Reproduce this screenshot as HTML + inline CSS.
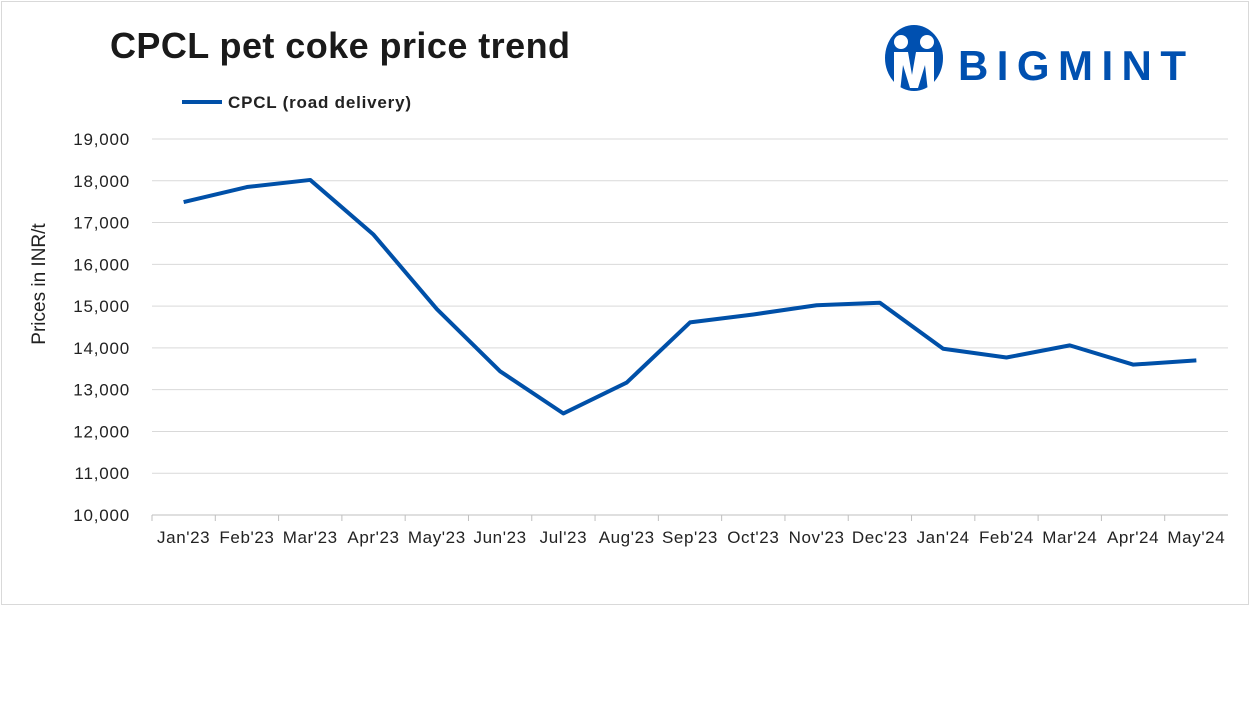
<!DOCTYPE html>
<html><head><meta charset="utf-8"><style>
body{margin:0;background:#fff;font-family:"Liberation Sans",sans-serif}
#wrap{position:relative;width:1251px;height:698px}
</style></head><body>
<div id="wrap">
<svg id="chart" width="1251" height="698" xmlns="http://www.w3.org/2000/svg">
<rect x="1.5" y="1.5" width="1247" height="603" fill="#fff" stroke="#d9d9d9"/>
<text x="110" y="58" font-size="36" font-weight="bold" fill="#1a1a1a" textLength="460">CPCL pet coke price trend</text>
<g>
<ellipse cx="914" cy="58" rx="29" ry="33" fill="#0050b0"/>
<circle cx="901" cy="42" r="7" fill="#fff"/><circle cx="927" cy="42" r="7" fill="#fff"/>
<path d="M894 52 L908 52 L912 75 L916 52 L934 52 L934 92 L928 92 L925 65 L918 88 L910 88 L903 65 L900 92 L894 92Z" fill="#fff"/>
<text x="958" y="80" font-size="42" font-weight="bold" fill="#0050b0" textLength="228">BIGMINT</text>
</g>
<line x1="182" y1="102" x2="222" y2="102" stroke="#0050a8" stroke-width="4"/>
<text x="228" y="108" font-size="17" font-weight="bold" fill="#222" textLength="183">CPCL (road delivery)</text>
<text transform="translate(45,284) rotate(-90)" font-size="19" fill="#222" text-anchor="middle">Prices in INR/t</text>
</svg></div>
<script>
const categories=["Jan'23","Feb'23","Mar'23","Apr'23","May'23","Jun'23","Jul'23","Aug'23","Sep'23","Oct'23","Nov'23","Dec'23","Jan'24","Feb'24","Mar'24","Apr'24","May'24"];
const prices=[17490,17850,18020,16710,14930,13440,12430,13170,14610,14800,15020,15080,13980,13770,14060,13600,13700];
const yTicks=[10000,11000,12000,13000,14000,15000,16000,17000,18000,19000];
const NS="http://www.w3.org/2000/svg";
const x0=152,x1=1228,yb=515,yt=139,ymin=10000,ymax=19000;
const step=(x1-x0)/categories.length;
const xs=i=>x0+step*(i+0.5);
const ys=v=>yb-(v-ymin)/(ymax-ymin)*(yb-yt);
const svg=document.getElementById('chart');
function mk(t,a){const e=document.createElementNS(NS,t);for(const k in a)e.setAttribute(k,a[k]);return e;}
yTicks.forEach(v=>{
 const l=mk('line',{x1:x0,x2:x1,y1:ys(v),y2:ys(v),stroke:v===ymin?'#bfbfbf':'#d9d9d9','stroke-width':1});
 
 
 svg.appendChild(l);
 const t=mk('text',{x:130,y:ys(v)+6,'font-size':17,'text-anchor':'end',fill:'#222','letter-spacing':'0.8'});
 t.textContent=v.toLocaleString('en-US');
 
 
 svg.appendChild(t);
});
categories.forEach((c,i)=>{
 const tk=mk('line',{x1:x0+step*i,x2:x0+step*i,y1:yb,y2:yb+6,stroke:'#bfbfbf'});
 
 
 svg.appendChild(tk);
 const t=mk('text',{x:xs(i),y:yb+28,'font-size':17,'text-anchor':'middle',fill:'#222','letter-spacing':'0.6'});
 t.textContent=c;
 
 
 svg.appendChild(t);
});
const p=mk('polyline',{points:prices.map((v,i)=>xs(i)+','+ys(v)).join(' '),fill:'none',stroke:'#0050a8','stroke-width':4,'stroke-linejoin':'round'});


svg.appendChild(p);
</script>
</body></html>
